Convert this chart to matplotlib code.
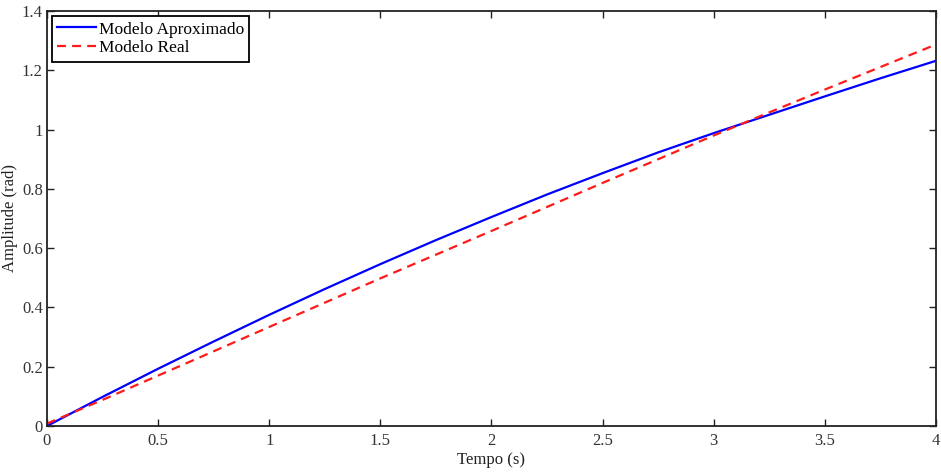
import numpy as np
import matplotlib
matplotlib.use("Agg")
import matplotlib.pyplot as plt

# ----------------- data -----------------
tempo = [0.0, 0.25, 0.5, 0.75, 1.0, 1.25, 1.5, 1.75, 2.0,
         2.25, 2.5, 2.75, 3.0, 3.25, 3.5, 3.75, 4.0]
modelo_aprox = [0.000, 0.098, 0.193, 0.285, 0.375, 0.462, 0.546, 0.627, 0.705,
                0.781, 0.853, 0.923, 0.988, 1.050, 1.112, 1.173, 1.232]
modelo_real = [0.008, 0.088, 0.170, 0.252, 0.334, 0.416, 0.498, 0.578, 0.658,
               0.739, 0.820, 0.900, 0.980, 1.058, 1.135, 1.211, 1.287]

x_ticks = [0, 0.5, 1, 1.5, 2, 2.5, 3, 3.5, 4]
x_ticklabels = ["0", "0.5", "1", "1.5", "2", "2.5", "3", "3.5", "4"]
y_ticks = [0, 0.2, 0.4, 0.6, 0.8, 1.0, 1.2, 1.4]
y_ticklabels = ["0", "0.2", "0.4", "0.6", "0.8", "1", "1.2", "1.4"]
# -----------------------------------------------------------------

plt.rcParams["font.family"] = ["Liberation Serif", "DejaVu Serif"]
plt.rcParams["font.size"] = 12

fig = plt.figure(figsize=(9.41, 4.72), dpi=100)
ax = fig.add_axes([0.0499, 0.0975, 0.9448, 0.8792])

ax.plot(tempo, modelo_aprox, color="#0000ff", lw=1.6, label="Modelo Aproximado")
ax.plot(tempo, modelo_real, color="#ff1a1a", lw=1.6, ls=(0, (4, 2.8)), label="Modelo Real")

ax.set_xlim(0, 4); ax.set_ylim(0, 1.4)
ax.set_xticks(x_ticks); ax.set_xticklabels(x_ticklabels)
ax.set_yticks(y_ticks); ax.set_yticklabels(y_ticklabels)
ax.tick_params(direction="in", top=True, right=True, length=5, width=1,
               labelsize=12, colors="#222222")
ax.tick_params(axis="x", pad=5)
ax.tick_params(axis="y", pad=3)
for lab in ax.get_xticklabels() + ax.get_yticklabels():
    lab.set_color("#333333")
for s in ax.spines.values():
    s.set_linewidth(1.3); s.set_color("#222222")

ax.set_xlabel("Tempo (s)", fontsize=12, labelpad=2, color="#222222")
ax.set_ylabel("Amplitude (rad)", fontsize=12, labelpad=3, color="#222222")

leg = ax.legend(loc="upper left", fontsize=12.5, handlelength=2.2, handletextpad=0.2,
                borderpad=0.3, labelspacing=0.15, borderaxespad=0.3, fancybox=False)
leg.get_frame().set_edgecolor("black"); leg.get_frame().set_linewidth(1.3)
leg.get_frame().set_alpha(1)

fig.savefig("out.png", dpi=100)
